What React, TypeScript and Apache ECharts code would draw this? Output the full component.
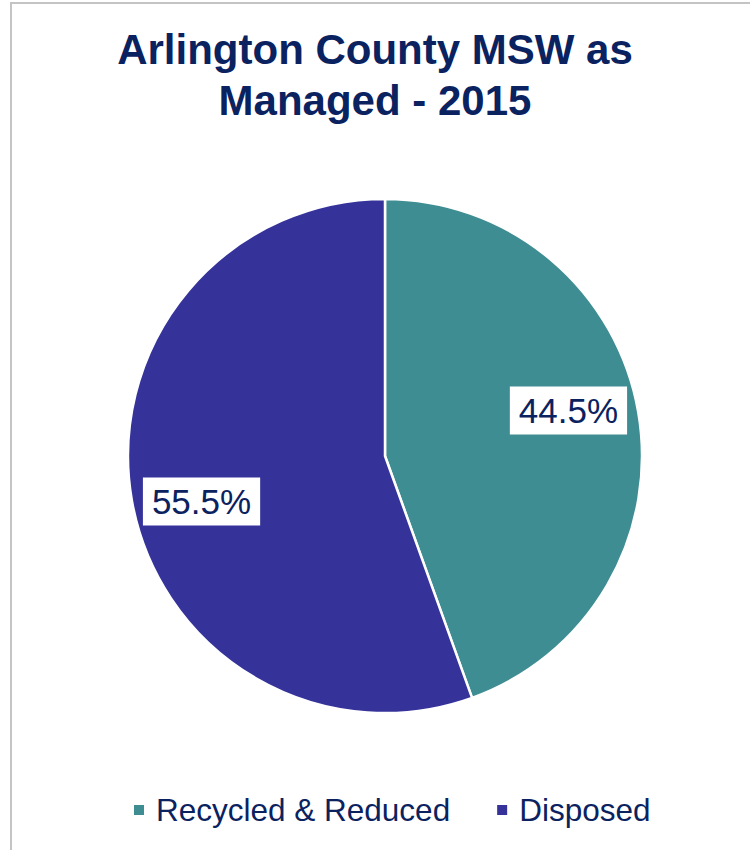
import React, { useEffect, useRef } from "react";
import * as echarts from "echarts";

const categories = ["Recycled & Reduced", "Disposed"];
const shares = [44.5, 55.5];
const colors = ["#3E8D92", "#35339A"];
const titleLines = ["Arlington County MSW as", "Managed - 2015"];

export default function App() {
  const ref = useRef<HTMLDivElement>(null);
  useEffect(() => {
    document.body.style.margin = "0";
    const chart = echarts.init(ref.current!, null, { renderer: "svg" });
    const data = categories.map((name, i) => ({
      name,
      value: shares[i],
      itemStyle: { color: colors[i] },
    }));
    const font = "'Liberation Sans', Arial, sans-serif";
    chart.setOption({
      animation: false,
      backgroundColor: "#ffffff",
      title: {
        text: titleLines.join("\n"),
        left: "center",
        top: 19,
        textStyle: {
          fontFamily: font,
          fontWeight: "bold",
          fontSize: 42,
          lineHeight: 51,
          color: "#0B2260",
        },
      },
      graphic: [
        {
          type: "rect",
          shape: { x: 11, y: 3, width: 800, height: 900 },
          style: { fill: "none", stroke: "#c4c4c4", lineWidth: 2 },
          silent: true,
        },
      ],
      legend: {
        bottom: 19,
        left: 127,
        itemWidth: 12,
        itemHeight: 12,
        itemGap: 45,
        icon: "rect",
        textStyle: {
          fontFamily: font,
          fontSize: 31.5,
          color: "#0B2260",
          padding: [0, 0, 0, 6],
        },
        data: categories,
      },
      series: [
        {
          type: "pie",
          center: [385, 456],
          radius: [0, 257],
          startAngle: 90,
          clockwise: true,
          itemStyle: { borderColor: "#ffffff", borderWidth: 2.5 },
          label: { show: false },
          labelLine: { show: false },
          emphasis: { disabled: true },
          data,
        },
        {
          type: "pie",
          center: [385, 456],
          radius: [115, 257],
          startAngle: 94,
          clockwise: true,
          silent: true,
          legendHoverLink: false,
          itemStyle: { color: "rgba(0,0,0,0)", borderWidth: 0 },
          label: {
            show: true,
            position: "inside",
            formatter: (p: any) => p.value.toFixed(1) + "%",
            fontFamily: font,
            fontSize: 35,
            lineHeight: 38,
            color: "#0B2260",
            backgroundColor: "#ffffff",
            padding: [5, 9],
          },
          labelLine: { show: false },
          emphasis: { disabled: true },
          data: categories.map((name, i) => ({ name: name + " ", value: shares[i] })),
        },
      ],
    });
    return () => chart.dispose();
  }, []);
  return <div ref={ref} style={{ width: 750, height: 850 }} />;
}
